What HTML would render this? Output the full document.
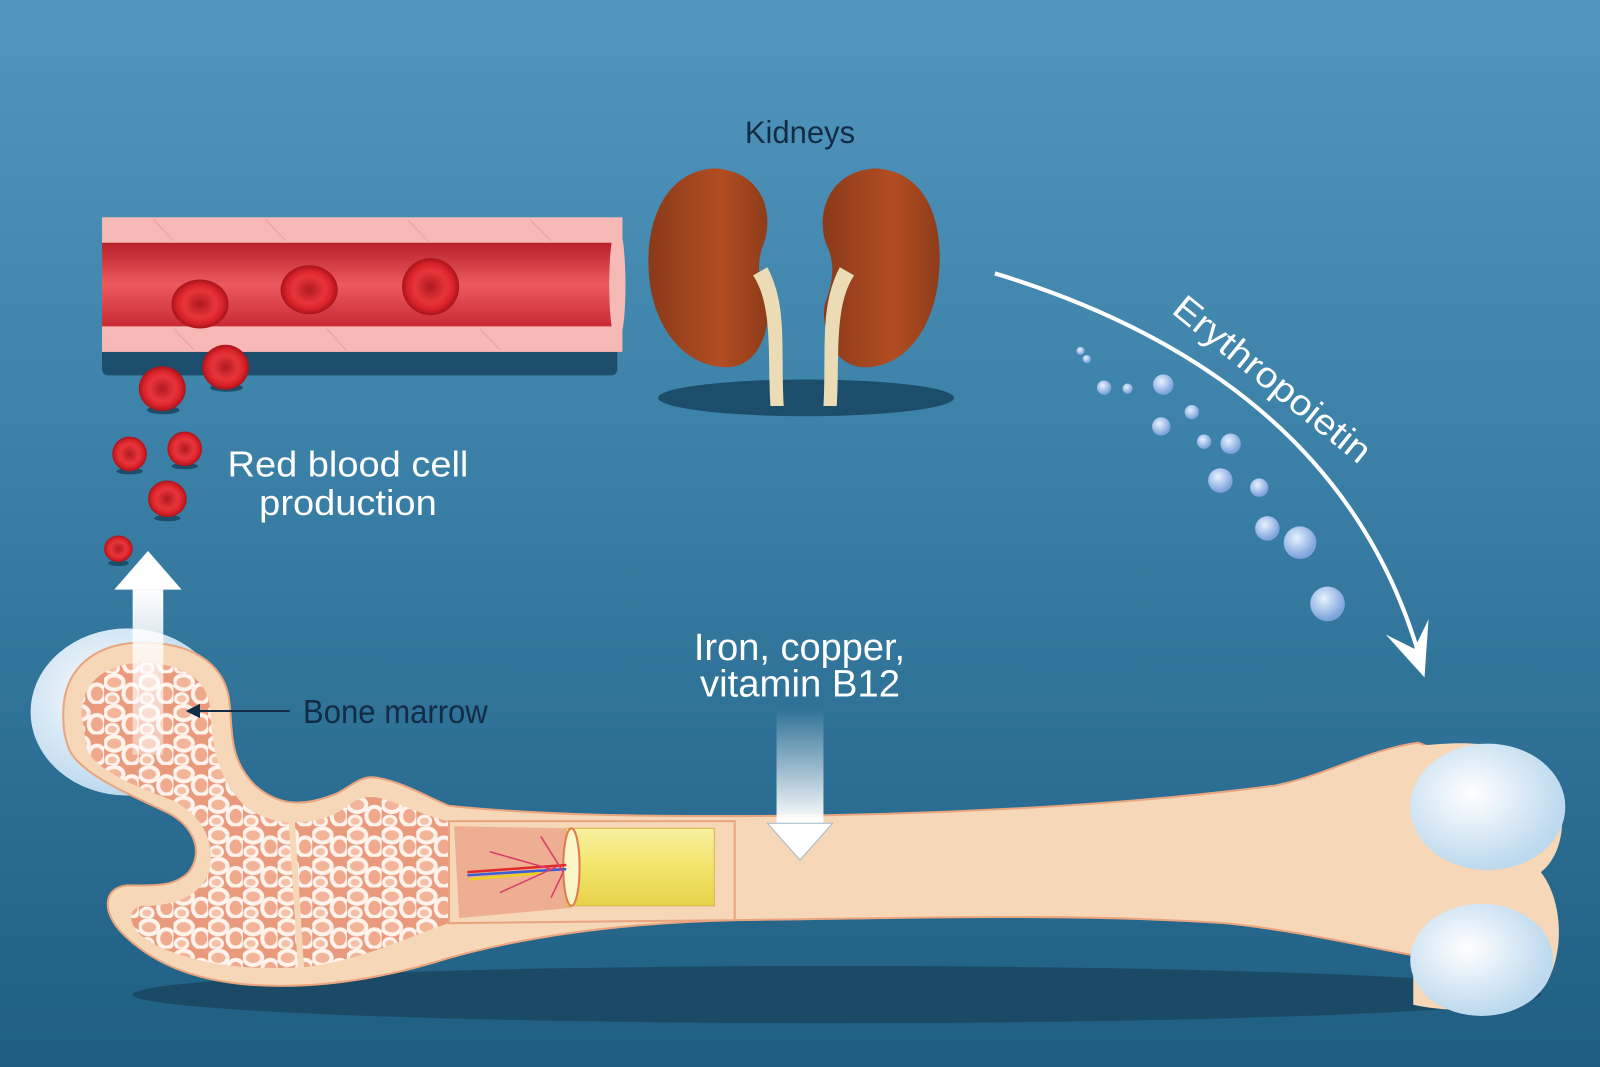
<!DOCTYPE html>
<html><head><meta charset="utf-8"><style>html,body{margin:0;padding:0;overflow:hidden}svg{display:block}</style></head><body>
<svg width="1600" height="1067" viewBox="0 0 1568 1046" preserveAspectRatio="none" xmlns="http://www.w3.org/2000/svg" font-family="Liberation Sans, sans-serif">
<defs>
<linearGradient id="bg" x1="0" y1="0" x2="0" y2="1"><stop offset="0" stop-color="#5296bd"/><stop offset="0.45" stop-color="#3a7fa6"/><stop offset="1" stop-color="#1f5e82"/></linearGradient>
<linearGradient id="lumen" x1="0" y1="0" x2="0" y2="1"><stop offset="0" stop-color="#b8202a"/><stop offset="0.5" stop-color="#ec5a5e"/><stop offset="1" stop-color="#c92a33"/></linearGradient>
<radialGradient id="rbc" cx="0.5" cy="0.5" r="0.5"><stop offset="0" stop-color="#b01a20"/><stop offset="0.55" stop-color="#e8353a"/><stop offset="0.8" stop-color="#d8222a"/><stop offset="1" stop-color="#a8141b"/></radialGradient>
<radialGradient id="dot" cx="0.4" cy="0.35" r="0.6"><stop offset="0" stop-color="#e8f2ff"/><stop offset="1" stop-color="#7ea4dc"/></radialGradient>
<linearGradient id="down" x1="0" y1="0" x2="0" y2="1"><stop offset="0" stop-color="#fff" stop-opacity="0"/><stop offset="1" stop-color="#fff"/></linearGradient>
<linearGradient id="up" x1="0" y1="0" x2="0" y2="1"><stop offset="0" stop-color="#fff"/><stop offset="1" stop-color="#fff" stop-opacity="0.4"/></linearGradient>
<linearGradient id="yel" x1="0" y1="0" x2="0" y2="1"><stop offset="0" stop-color="#f7f0a0"/><stop offset="0.5" stop-color="#f3e56a"/><stop offset="1" stop-color="#e6d24a"/></linearGradient>
<linearGradient id="kid" x1="0" y1="0" x2="1" y2="0"><stop offset="0" stop-color="#8a3a1a"/><stop offset="0.6" stop-color="#b24d22"/><stop offset="1" stop-color="#8e3c1a"/></linearGradient>
<pattern id="spongy" width="34" height="30" patternUnits="userSpaceOnUse">
<rect width="34" height="30" fill="#e99a7c"/>
<ellipse cx="10" cy="9" rx="9" ry="7" fill="#f2b59a" stroke="#fff3ec" stroke-width="4"/>
<ellipse cx="27" cy="20" rx="8" ry="9" fill="#f0a98c" stroke="#fff3ec" stroke-width="4"/>
<ellipse cx="8" cy="25" rx="6" ry="5" fill="#f5c0a6" stroke="#fff3ec" stroke-width="3"/>
</pattern>
<radialGradient id="cap" cx="0.4" cy="0.4" r="0.6"><stop offset="0" stop-color="#ffffff"/><stop offset="1" stop-color="#bcd9ee"/></radialGradient>
</defs>
<rect width="1568" height="1046" fill="url(#bg)"/>

<rect x="100" y="330" width="505" height="38" rx="6" fill="#1c4e6c"/>
<rect x="100" y="213" width="510" height="132" fill="#f6b9b6"/>
<path d="M100 238 H605 V320 H100 Z" fill="url(#lumen)"/>
<ellipse cx="605" cy="279" rx="8" ry="58" fill="#f6b9b6"/>
<g stroke="#eaa09c" stroke-width="1.5" fill="none" opacity="0.7">
<path d="M150 215 L170 236 M260 215 L280 236 M400 216 L420 237 M520 216 L540 236 M170 322 L190 343 M320 322 L340 344 M470 322 L490 343"/>
</g>
<g>
<ellipse cx="196" cy="298" rx="28" ry="24" fill="url(#rbc)"/>
<ellipse cx="303" cy="284" rx="28" ry="24" fill="url(#rbc)"/>
<ellipse cx="422" cy="281" rx="28" ry="28" fill="url(#rbc)"/>
</g>

<g>
<ellipse cx="222" cy="380" rx="16" ry="4" fill="#1c4e6c"/><ellipse cx="221" cy="360" rx="23" ry="22" fill="url(#rbc)"/>
<ellipse cx="160" cy="402" rx="16" ry="4" fill="#1c4e6c"/><ellipse cx="159" cy="381" rx="23" ry="22" fill="url(#rbc)"/>
<ellipse cx="127" cy="462" rx="13" ry="3" fill="#1c4e6c"/><ellipse cx="127" cy="445" rx="17" ry="17" fill="url(#rbc)"/>
<ellipse cx="181" cy="457" rx="13" ry="3" fill="#1c4e6c"/><ellipse cx="181" cy="440" rx="17" ry="17" fill="url(#rbc)"/>
<ellipse cx="164" cy="508" rx="13" ry="3" fill="#1c4e6c"/><ellipse cx="164" cy="489" rx="19" ry="18" fill="url(#rbc)"/>
<ellipse cx="116" cy="552" rx="10" ry="3" fill="#1c4e6c"/><ellipse cx="116" cy="538" rx="14" ry="13" fill="url(#rbc)"/>
</g>

<ellipse cx="790" cy="390" rx="145" ry="18" fill="#1c4e6c"/>
<path d="M700 165 C 650 168 632 220 636 270 C 640 320 670 360 712 360 C 745 360 755 320 752 300 C 745 280 740 260 748 240 C 758 215 752 168 700 165 Z" fill="url(#kid)"/>
<path d="M858 165 C 910 168 925 220 920 270 C 916 320 888 360 848 360 C 815 360 805 320 808 300 C 815 280 820 260 810 240 C 800 215 808 168 858 165 Z" fill="url(#kid)"/>
<path d="M738 270 C 758 300 752 350 755 398 L768 398 C 765 340 772 300 752 262 Z" fill="#ecdcb5"/>
<path d="M837 270 C 817 300 823 350 820 398 L807 398 C 810 340 803 300 823 262 Z" fill="#ecdcb5"/>
<text x="730" y="140" font-size="31" fill="#132c46" textLength="108" lengthAdjust="spacingAndGlyphs">Kidneys</text>

<path d="M975 268 Q 1310 370 1390 640" stroke="#fff" stroke-width="4" fill="none"/>
<path d="M1358 622 L1396 664 L1400 607 L1386 636 Z" fill="#fff"/>
<text font-size="35" fill="#fff" transform="translate(1147,306) rotate(39)" textLength="238" lengthAdjust="spacingAndGlyphs">Erythropoietin</text>
<g fill="url(#dot)">
<circle cx="1059" cy="344" r="4"/><circle cx="1065" cy="352" r="4"/>
<circle cx="1082" cy="380" r="7"/><circle cx="1105" cy="381" r="5"/><circle cx="1140" cy="377" r="10"/>
<circle cx="1168" cy="404" r="7"/><circle cx="1138" cy="418" r="9"/><circle cx="1180" cy="433" r="7"/><circle cx="1206" cy="435" r="10"/>
<circle cx="1196" cy="471" r="12"/><circle cx="1234" cy="478" r="9"/>
<circle cx="1242" cy="518" r="12"/><circle cx="1274" cy="532" r="16"/><circle cx="1301" cy="592" r="17"/>
</g>

<ellipse cx="820" cy="975" rx="690" ry="28" fill="#1a4a66"/>

<ellipse cx="125" cy="698" rx="95" ry="82" fill="url(#cap)"/>
<path d="M62 700 C 62 650 100 628 145 630 C 195 632 222 655 225 690 C 228 720 225 745 250 770 C 275 792 300 790 330 778 C 345 770 352 762 365 762 C 390 764 420 782 440 790 C 540 800 640 800 720 800 C 900 800 1100 790 1250 770 C 1300 760 1340 735 1390 728 L1420 740 L1420 940 C 1380 940 1300 915 1200 905 C 1050 895 900 900 720 902 C 600 905 500 920 420 945 C 360 962 300 970 240 965 C 190 960 150 945 120 915 C 100 895 100 870 125 868 C 150 868 170 870 185 855 C 200 835 190 810 165 797 C 130 780 80 760 68 735 C 62 720 62 710 62 700 Z" fill="#f6d7b8" stroke="#e9a57f" stroke-width="2"/>
<path d="M80 700 C 80 665 110 648 145 650 C 185 652 204 670 206 695 C 208 725 210 760 240 790 C 270 815 320 808 340 790 C 352 782 360 780 370 782 C 390 786 415 800 440 805 L440 905 C 400 918 360 940 300 948 C 240 952 190 945 150 925 C 125 912 122 890 140 888 C 170 888 195 880 205 855 C 212 825 198 800 170 785 C 130 770 95 755 85 735 Z" fill="url(#spongy)"/>
<path d="M285 790 L295 950" stroke="#f6d7b8" stroke-width="6"/>
<path d="M440 805 L720 805 L720 902 L440 905 Z" fill="#f6d7b8" stroke="#e9a57f" stroke-width="2"/>
<path d="M445 810 L560 812 L560 890 L450 900 Z" fill="#eeae92"/>
<rect x="555" y="812" width="145" height="76" fill="url(#yel)" stroke="#d9b84a"/>
<ellipse cx="560" cy="850" rx="8" ry="38" fill="#fbf6c8" stroke="#e07a50" stroke-width="2"/>
<g stroke-width="2.5" fill="none">
<path d="M458 855 L555 848" stroke="#e02a2a"/><path d="M458 858 L555 852" stroke="#3a5fd0"/><path d="M460 862 L530 856" stroke="#e8d020"/>
<path d="M480 835 L540 852 M490 875 L545 850 M530 820 L552 855 M540 880 L552 855" stroke="#d83c6a" stroke-width="1.5"/>
</g>
<path d="M1385 732 C 1460 722 1500 735 1520 760 C 1540 800 1530 840 1510 855 C 1530 880 1535 930 1515 965 C 1490 990 1430 995 1385 985 Z" fill="#f6d7b8"/>
<ellipse cx="1458" cy="791" rx="76" ry="62" fill="url(#cap)"/>
<ellipse cx="1452" cy="941" rx="70" ry="55" fill="url(#cap)"/>

<rect x="130" y="578" width="30" height="162" fill="url(#up)"/>
<path d="M112 578 L178 578 L145 540 Z" fill="#fff"/>
<rect x="761" y="695" width="46" height="112" fill="url(#down)"/>
<path d="M752 807 L816 807 L784 843 Z" fill="#fff" stroke="#9fb9c8" stroke-width="1"/>

<line x1="190" y1="697" x2="284" y2="697" stroke="#132c46" stroke-width="2"/>
<path d="M182 697 L196 690 L196 704 Z" fill="#132c46"/>
<text x="297" y="709" font-size="33" fill="#132c46" textLength="181" lengthAdjust="spacingAndGlyphs">Bone marrow</text>

<text x="223" y="467" font-size="35" fill="#fff" textLength="236" lengthAdjust="spacingAndGlyphs">Red blood cell</text>
<text x="254" y="505" font-size="35" fill="#fff" textLength="174" lengthAdjust="spacingAndGlyphs">production</text>
<text x="680" y="647" font-size="37" fill="#fff" textLength="207" lengthAdjust="spacingAndGlyphs">Iron, copper,</text>
<text x="686" y="683" font-size="37" fill="#fff" textLength="196" lengthAdjust="spacingAndGlyphs">vitamin B12</text>
</svg>
</body></html>
